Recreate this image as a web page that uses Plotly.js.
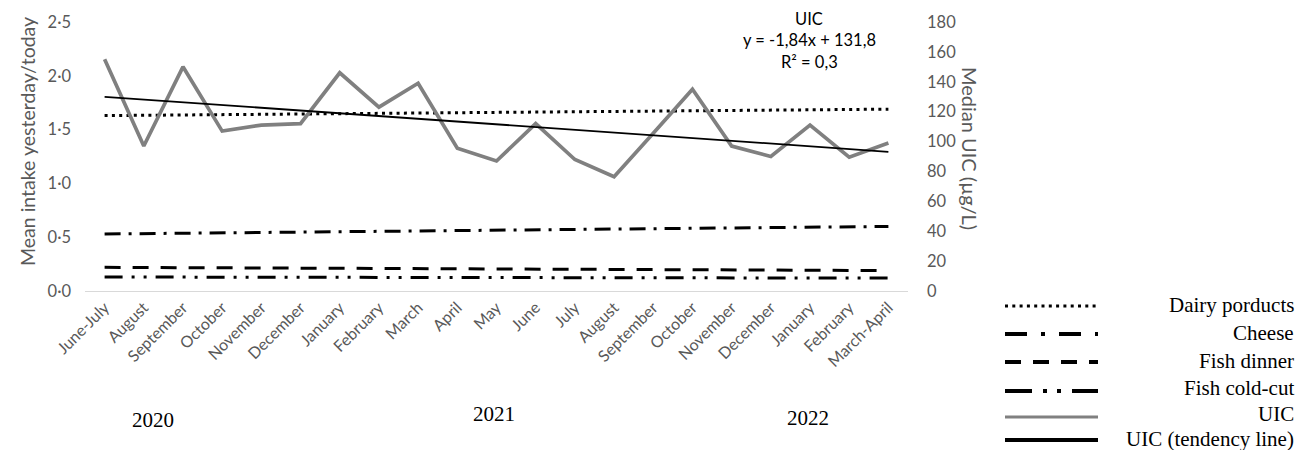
<!DOCTYPE html>
<html>
<head>
<meta charset="utf-8">
<script src="https://cdn.plot.ly/plotly-3.0.1.min.js"></script>
<style>html,body{margin:0;padding:0;background:#fff;}#chart{width:1305px;height:450px;}</style>
</head>
<body>
<div id="chart"></div>
<script>
// ---- data ----
const monthLabels = ["June-July","August","September","October","November","December",
  "January","February","March","April","May","June","July","August","September","October","November","December",
  "January","February","March-April"];
const yearLabels = ["2020","2021","2022"];
const uic = [155, 97, 150, 107, 111, 112, 146, 123, 139, 95.5, 87, 112, 88, 76.5, 105.5, 135, 97, 90, 111, 89.5, 99];
// straight lines as drawn (first and last period)
const dairyEnds = [1.63, 1.69];
const cheeseEnds = [0.53, 0.60];
const fishDinnerEnds = [0.22, 0.19];
const fishColdCutEnds = [0.13, 0.12];
const uicTrendEnds = [129.96, 93.16];   // y = -1,84x + 131,8 at x = 1 and x = 21
const leftTicks = [0, 0.5, 1.0, 1.5, 2.0, 2.5];
const leftTickText = ["0·0","0·5","1·0","1·5","2·0","2·5"];
const rightTicks = [0,20,40,60,80,100,120,140,160,180];
const legendNames = ["Dairy porducts","Cheese","Fish dinner","Fish cold-cut","UIC","UIC (tendency line)"];

// ---- geometry helpers (pixel -> paper) ----
const W = 1305, H = 450;
const L = 85, R = 908, T = 22, B = 291;
const px = x => (x - L) / (R - L);
const py = y => (B - y) / (B - T);

const idx = monthLabels.map((_, i) => i);
const ends = [0, monthLabels.length - 1];
const grey = '#595959';

const dashDairy = '3px,4.3px';
const dashCheese = '16px,8px,3px,8px';
const dashFishDinner = '16px,12px';
const dashColdCut = '18px,9px,3px,9px,3px,9px';

const traces = [
  {x: ends, y: dairyEnds, yaxis: 'y', mode: 'lines', name: legendNames[0], line: {color: '#000', width: 3, dash: dashDairy}},
  {x: ends, y: cheeseEnds, yaxis: 'y', mode: 'lines', name: legendNames[1], line: {color: '#000', width: 3, dash: dashCheese}},
  {x: ends, y: fishDinnerEnds, yaxis: 'y', mode: 'lines', name: legendNames[2], line: {color: '#000', width: 3, dash: dashFishDinner}},
  {x: ends, y: fishColdCutEnds, yaxis: 'y', mode: 'lines', name: legendNames[3], line: {color: '#000', width: 3, dash: dashColdCut}},
  {x: idx, y: uic, yaxis: 'y2', mode: 'lines', name: legendNames[4], line: {color: '#808080', width: 3.7}},
  {x: ends, y: uicTrendEnds, yaxis: 'y2', mode: 'lines', name: legendNames[5], line: {color: '#000', width: 1.8}}
];

// ---- custom legend (right-aligned text, samples to the left) ----
const legRowsLine = [306, 334, 362, 391, 417, 440];
const legRowsText = [305, 333, 361, 388, 414, 439];
const legStyles = [
  {color: '#000', width: 3, dash: dashDairy},
  {color: '#000', width: 4, dash: '22px,14px,4px,14px'},
  {color: '#000', width: 4, dash: '16px,12px'},
  {color: '#000', width: 4, dash: '27px,11px,4px,10px,4px,11px'},
  {color: '#808080', width: 3, dash: 'solid'},
  {color: '#000', width: 4, dash: 'solid'}
];
const shapes = legStyles.map((st, i) => ({
  type: 'line', xref: 'paper', yref: 'paper',
  x0: px(1005), x1: px(1098), y0: py(legRowsLine[i]), y1: py(legRowsLine[i]),
  line: st
}));

const serif = {family: 'Liberation Serif, Times New Roman, serif', size: 21, color: '#000'};
const sans = 'Lato, Calibri, Carlito, sans-serif';
const annotations = [];
legendNames.forEach((n, i) => annotations.push({
  xref: 'paper', yref: 'paper', x: px(1296), y: py(legRowsText[i]), xanchor: 'right', yanchor: 'middle',
  text: n, showarrow: false, font: serif
}));
const yearPos = [[153, 420], [494, 414], [808, 418]];
yearLabels.forEach((t, i) => annotations.push({
  xref: 'paper', yref: 'paper', x: px(yearPos[i][0]), y: py(yearPos[i][1]), xanchor: 'center', yanchor: 'middle',
  text: t, showarrow: false, font: serif
}));
// trendline label
const eqLines = ["UIC", "y = -1,84x + 131,8", "R² = 0,3"];
const eqY = [19, 40, 62];
eqLines.forEach((t, i) => annotations.push({
  xref: 'paper', yref: 'paper', x: px(809), y: py(eqY[i]), xanchor: 'center', yanchor: 'middle',
  text: t, showarrow: false, font: {family: sans, size: 16.5, color: '#000'}
}));
// axis titles
annotations.push({xref: 'paper', yref: 'paper', x: px(27), y: py(142), xanchor: 'center', yanchor: 'middle',
  text: 'Mean intake yesterday/today', textangle: -90, showarrow: false, font: {family: sans, size: 19.5, color: grey}});
annotations.push({xref: 'paper', yref: 'paper', x: px(970), y: py(148), xanchor: 'center', yanchor: 'middle',
  text: 'Median UIC (µg/L)', textangle: 90, showarrow: false, font: {family: sans, size: 20, color: grey}});

const layout = {
  width: W, height: H,
  margin: {l: L, r: W - R, t: T, b: H - B, pad: 0},
  paper_bgcolor: '#fff', plot_bgcolor: '#fff',
  showlegend: false,
  font: {family: sans, color: grey, size: 16},
  xaxis: {
    range: [-0.5, monthLabels.length - 0.5],
    tickmode: 'array', tickvals: idx, ticktext: monthLabels, tickangle: -45,
    showgrid: false, zeroline: false, showline: true, linecolor: '#d9d9d9', linewidth: 1,
    ticks: '', tickfont: {family: sans, size: 16, color: grey}, fixedrange: true
  },
  yaxis: {
    range: [0, 2.5], tickmode: 'array', tickvals: leftTicks, ticktext: leftTickText,
    showgrid: false, zeroline: false, showline: false, ticks: '',
    ticklabelstandoff: 13, tickfont: {family: sans, size: 16.5, color: grey}
  },
  yaxis2: {
    range: [0, 180], overlaying: 'y', side: 'right', tickmode: 'array', tickvals: rightTicks,
    showgrid: false, zeroline: false, showline: false, ticks: '',
    ticklabelstandoff: 18, tickfont: {family: sans, size: 16.5, color: grey}
  },
  shapes: shapes,
  annotations: annotations
};

Plotly.newPlot('chart', traces, layout, {staticPlot: true, displayModeBar: false});
</script>
</body>
</html>
